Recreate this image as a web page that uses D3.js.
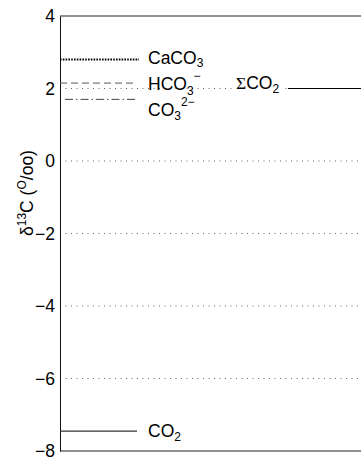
<!DOCTYPE html>
<html><head><meta charset="utf-8">
<script src="https://cdn.jsdelivr.net/npm/d3@7"></script>
<style>
html,body{margin:0;padding:0;background:#fff;}
svg text{font-family:"Liberation Sans",Arial,Helvetica,sans-serif;fill:#000;}
</style></head>
<body><div id="chart"></div>
<script>
// ---- data ----
const yTicks = [4, 2, 0, -2, -4, -6, -8];
const gridValues = [2, 0, -2, -4, -6];
const species = ["CaCO3", "HCO3-", "CO3 2-", "CO2"];
const speciesValues = [2.8, 2.15, 1.7, -7.45];
const sumCO2Value = 2.0;
const yDomain = [-8, 4];

// ---- layout ----
const W = 361, H = 459;
const svg = d3.select("#chart").append("svg").attr("width", W).attr("height", H);
svg.append("rect").attr("width", W).attr("height", H).attr("fill", "#fff");

const x0 = 60;
const y = d3.scaleLinear().domain(yDomain).range([451, 16]);

// grid lines (dotted)
svg.append("g").selectAll("line").data(gridValues).join("line")
  .attr("x1", x0).attr("x2", W)
  .attr("y1", d => y(d)).attr("y2", d => y(d))
  .attr("stroke", "#666").attr("stroke-width", 1)
  .attr("stroke-dasharray", "1,4.5");

// axes frame
svg.append("line").attr("x1", x0).attr("x2", W).attr("y1", y(4)).attr("y2", y(4))
  .attr("stroke", "#222").attr("stroke-width", 1);
svg.append("line").attr("x1", x0).attr("x2", W).attr("y1", y(-8)).attr("y2", y(-8))
  .attr("stroke", "#222").attr("stroke-width", 1);

const axis = d3.axisLeft(y).tickValues(yTicks).tickSize(0).tickPadding(5)
  .tickFormat(d => d < 0 ? "\u2212" + Math.abs(d) : String(d));
const gAxis = svg.append("g").attr("transform", `translate(${x0},0)`).call(axis);
gAxis.select(".domain").attr("stroke", "#111").attr("stroke-width", 1);
gAxis.selectAll("text").attr("font-size", 17.5).attr("font-family", '"Liberation Sans",Arial,sans-serif').attr("fill", "#000");

// species lines
const styles = [
  {dash: "1.6,1.2", w: 2.2, c: "#000", xs: x0, xe: 139},
  {dash: "7,4", w: 1, c: "#555", xs: x0, xe: 137},
  {dash: "8,3,1.5,3", w: 1, c: "#444", xs: 65, xe: 138},
  {dash: null, w: 1.2, c: "#333", xs: x0, xe: 137}
];
svg.append("g").selectAll("line").data(speciesValues).join("line")
  .attr("x1", (d, i) => styles[i].xs).attr("x2", (d, i) => styles[i].xe)
  .attr("y1", d => y(d)).attr("y2", d => y(d))
  .attr("stroke", (d, i) => styles[i].c)
  .attr("stroke-width", (d, i) => styles[i].w)
  .attr("stroke-dasharray", (d, i) => styles[i].dash);

// labels
const FS = 17.5, SS = 12;
function chem(g, xp, yp, parts) {
  const t = g.append("text").attr("x", xp).attr("y", yp).attr("font-size", FS);
  let cur = 0;
  parts.forEach(p => {
    const off = p.off || 0;
    t.append("tspan").attr("dy", off - cur).attr("font-size", p.s || FS)
      .attr("font-family", p.f || null).text(p.t);
    cur = off;
  });
  return t;
}
const labelY = [y(speciesValues[0]) + 4, y(speciesValues[1]) + 7, y(speciesValues[2]) + 16.5, y(speciesValues[3]) + 6];
const lg = svg.append("g");
chem(lg, 148, labelY[0], [{t: "CaCO"}, {t: "3", s: SS, off: 3.5}]);
chem(lg, 148, labelY[1], [{t: "HCO"}, {t: "3", s: SS, off: 4.5}, {t: "\u2212", s: SS, off: -10}]);
chem(lg, 148, labelY[2], [{t: "CO"}, {t: "3", s: SS, off: 4}, {t: "2\u2212", s: SS, off: -9.5}]);
chem(lg, 148, labelY[3], [{t: "CO"}, {t: "2", s: SS, off: 4}]);

// sum CO2
const sy = y(sumCO2Value);
svg.append("rect").attr("x", 236).attr("y", sy - 14).attr("width", 46).attr("height", 22).attr("fill", "#fff");
chem(svg, 236, sy, [{t: "\u03A3", f: '"Liberation Serif",serif'}, {t: "CO"}, {t: "2", s: SS, off: 4}]);
svg.append("line").attr("x1", 288).attr("x2", W).attr("y1", sy).attr("y2", sy)
  .attr("stroke", "#000").attr("stroke-width", 1.2);

// y axis label
const yl = svg.append("text").attr("transform", "translate(33,236) rotate(-90)")
  .attr("font-size", 17.5).attr("text-anchor", "start");
yl.append("tspan").text("\u03B4");
yl.append("tspan").attr("font-size", SS).attr("dy", -7).text("13");
yl.append("tspan").attr("dy", 7).text("C (");
yl.append("tspan").attr("font-size", SS).attr("dy", -7).text("O");
yl.append("tspan").attr("dy", 7).text("/oo)");
</script></body></html>
